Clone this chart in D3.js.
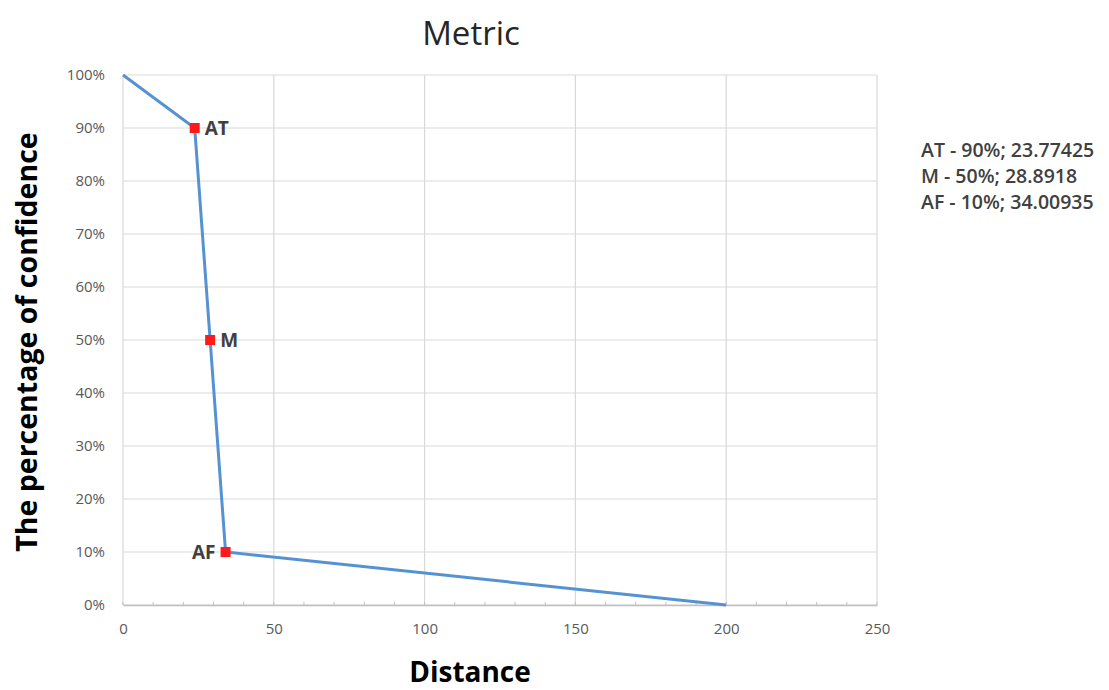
<!DOCTYPE html>
<html><head><meta charset="utf-8">
<script src="https://cdn.jsdelivr.net/npm/d3@7"></script>
<style>body{margin:0;background:#fff;} svg{display:block;}</style>
</head><body>
<svg id="chart" width="1109" height="690"></svg>
<script>
const labels = ["", "AT", "M", "AF", ""];
const distances = [0, 23.77425, 28.8918, 34.00935, 200];
const confidence = [1.0, 0.9, 0.5, 0.1, 0.0];
const markerIdx = [1, 2, 3];
const labelSide = ["", "right", "right", "left", ""];
const legendLines = ["AT - 90%; 23.77425", "M - 50%; 28.8918", "AF - 10%; 34.00935"];
const xTicks = [0, 50, 100, 150, 200, 250];
const xMinor = d3.range(0, 251, 10);
const yTicks = [0, 0.1, 0.2, 0.3, 0.4, 0.5, 0.6, 0.7, 0.8, 0.9, 1.0];
const title = "Metric";
const xTitle = "Distance";
const yTitle = "The percentage of confidence";

const svg = d3.select("#chart");
const font = "'Open Sans', 'Noto Sans', sans-serif";
const m = {left:123, right:877, top:75, bottom:605};
const x = d3.scaleLinear().domain([0,250]).range([m.left, m.right]);
const y = d3.scaleLinear().domain([0,1]).range([m.bottom, m.top]);

// gridlines
svg.append("g").selectAll("line").data(yTicks).join("line")
  .attr("x1", m.left).attr("x2", m.right)
  .attr("y1", d=>y(d)).attr("y2", d=>y(d))
  .attr("stroke", "#d9d9d9").attr("stroke-width", 1.2);
svg.append("g").selectAll("line").data(xTicks).join("line")
  .attr("x1", d=>x(d)).attr("x2", d=>x(d))
  .attr("y1", m.top).attr("y2", m.bottom)
  .attr("stroke", "#d9d9d9").attr("stroke-width", 1.2);

// x axis
const xAxis = svg.append("g").attr("transform", `translate(0,${m.bottom})`)
  .call(d3.axisBottom(x).tickValues(xTicks).tickSize(0).tickPadding(18).tickFormat(d3.format("d")));
xAxis.select(".domain").attr("stroke", "#bfbfbf").attr("stroke-width", 1.4);
xAxis.selectAll("text").attr("font-family", font).attr("font-size", 15).attr("fill", "#595959");
svg.append("g").selectAll("line").data(xMinor).join("line")
  .attr("x1", d=>x(d)).attr("x2", d=>x(d))
  .attr("y1", m.bottom-3).attr("y2", m.bottom)
  .attr("stroke", "#bfbfbf").attr("stroke-width", 1);

// y axis
const yAxis = svg.append("g").attr("transform", `translate(${m.left},0)`)
  .call(d3.axisLeft(y).tickValues(yTicks).tickSize(0).tickPadding(18).tickFormat(d3.format(".0%")));
yAxis.select(".domain").remove();
yAxis.selectAll("text").attr("font-family", font).attr("font-size", 15).attr("fill", "#595959");

// line
const pts = distances.map((d,i)=>({x:d, y:confidence[i], label:labels[i], side:labelSide[i]}));
svg.append("path").datum(pts)
  .attr("d", d3.line().x(d=>x(d.x)).y(d=>y(d.y)))
  .attr("fill", "none").attr("stroke", "#5592d2").attr("stroke-width", 3);

// markers
const mk = markerIdx.map(i=>pts[i]);
svg.append("g").selectAll("rect").data(mk).join("rect")
  .attr("x", d=>x(d.x)-5).attr("y", d=>y(d.y)-5)
  .attr("width", 10).attr("height", 10).attr("fill", "#ff1a1a");
svg.append("g").selectAll("text").data(mk).join("text")
  .attr("x", d=> d.side==="right" ? x(d.x)+10 : x(d.x)-10)
  .attr("y", d=>y(d.y)+7)
  .attr("text-anchor", d=> d.side==="right" ? "start" : "end")
  .attr("font-family", font).attr("font-size", 19).attr("font-weight", 700)
  .attr("fill", "#404040").text(d=>d.label);

// title
svg.append("text").attr("x", 471).attr("y", 45).attr("text-anchor", "middle")
  .attr("font-family", font).attr("font-size", 33).attr("fill", "#262626").text(title);
// axis titles
svg.append("text").attr("x", 470).attr("y", 682).attr("text-anchor", "middle")
  .attr("font-family", font).attr("font-size", 28).attr("font-weight", 700).attr("fill", "#000").text(xTitle);
svg.append("text").attr("transform", "translate(37,342) rotate(-90)").attr("text-anchor", "middle")
  .attr("font-family", font).attr("font-size", 28.5).attr("font-weight", 700).attr("fill", "#000").text(yTitle);

// legend text
svg.append("g").selectAll("text").data(legendLines).join("text")
  .attr("x", 921).attr("y", (d,i)=>157 + i*26)
  .attr("font-family", font).attr("font-size", 19.5).attr("font-weight", 600)
  .attr("fill", "#404040").text(d=>d);
</script>
</body></html>
